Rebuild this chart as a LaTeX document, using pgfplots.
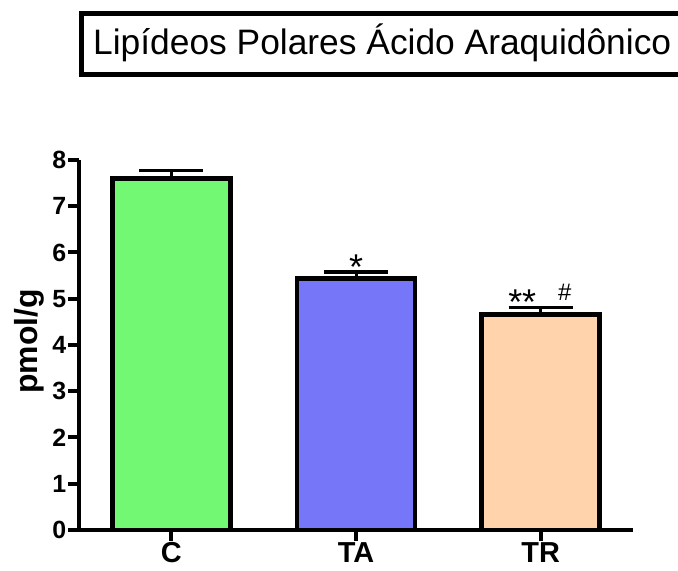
\documentclass[border=0pt]{standalone}
\usepackage{fontspec}
\setmainfont{Liberation Sans}
\usepackage{pgfplots}
\pgfplotsset{compat=1.18}
\definecolor{barC}{RGB}{115,248,115}
\definecolor{barTA}{RGB}{118,118,248}
\definecolor{barTR}{RGB}{255,212,172}

\begin{document}
\begin{tikzpicture}[x=1bp,y=1bp]
\useasboundingbox (0,0) rectangle (678,571);
% title box, runs off the right edge as in the original
\draw[line width=5bp] (81.5,557.5) rectangle (720,496.5);
\node[anchor=base west, inner sep=0pt, font=\fontsize{35.5}{35.5}\selectfont] at (93,516)
  {Lipídeos Polares Ácido Araquidônico};
\begin{axis}[
    at={(79bp,41bp)}, anchor=south west,
    scale only axis,
    width=554bp, height=370bp,
    xmin=-0.5, xmax=2.5, ymin=0, ymax=8,
    axis x line*=bottom, axis y line*=left,
    axis line style={line width=4bp, -},
    xtick={0,1,2}, xticklabels={C,TA,TR},
    ytick={0,1,...,8},
    tick align=outside,
    major tick length=11bp,
    tick style={line width=4bp, black},
    /pgf/number format/assume math mode=true,
    yticklabel style={font=\bfseries\fontsize{25}{25}\selectfont, inner sep=1.5bp},
    xticklabel style={font=\bfseries\fontsize{29}{29}\selectfont, inner sep=1bp},
    ylabel={pmol/g},
    ylabel style={font=\bfseries\fontsize{32}{32}\selectfont,
                  at={(axis description cs:-0.09,0.51)}, anchor=center},
    ybar, bar width=118bp,
    clip=false,
]
\addplot[fill=barC, draw=black, line width=4.5bp, bar shift=0pt,
    error bars/.cd, y dir=plus, y explicit,
    error bar style={line width=3bp, black},
    error mark options={rotate=90, mark size=32bp, line width=3.5bp, black}]
    coordinates {(0,7.60) +- (0,0.17)};
\addplot[fill=barTA, draw=black, line width=4.5bp, bar shift=0pt,
    error bars/.cd, y dir=plus, y explicit,
    error bar style={line width=3bp, black},
    error mark options={rotate=90, mark size=32bp, line width=3.5bp, black}]
    coordinates {(1,5.44) +- (0,0.14)};
\addplot[fill=barTR, draw=black, line width=4.5bp, bar shift=0pt,
    error bars/.cd, y dir=plus, y explicit,
    error bar style={line width=3bp, black},
    error mark options={rotate=90, mark size=32bp, line width=3.5bp, black}]
    coordinates {(2,4.66) +- (0,0.15)};
% significance marks
\node[anchor=base, inner sep=0pt, font=\fontsize{36}{36}\selectfont] at (axis cs:1,5.42) {*};
\node[anchor=base, inner sep=0pt, font=\fontsize{36}{36}\selectfont] at (axis cs:1.90,4.66) {**};
\node[anchor=base, inner sep=0pt, font=\fontsize{24}{24}\selectfont] at (axis cs:2.13,4.97) {\#};
\end{axis}
\end{tikzpicture}
\end{document}
